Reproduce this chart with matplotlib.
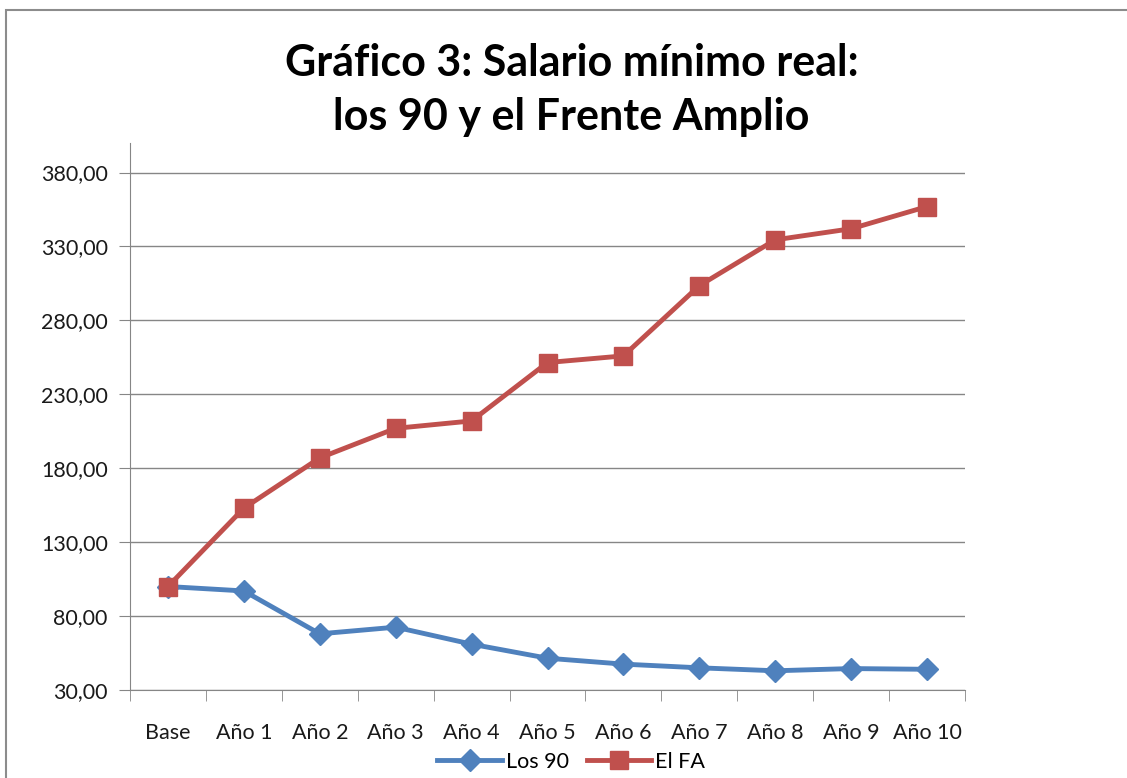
import matplotlib.pyplot as plt
from matplotlib.patches import Rectangle
from matplotlib.ticker import FixedLocator, FuncFormatter

plt.rcParams['font.family'] = ['Lato', 'DejaVu Sans']

categorias = ['Base', 'Año 1', 'Año 2', 'Año 3', 'Año 4', 'Año 5',
              'Año 6', 'Año 7', 'Año 8', 'Año 9', 'Año 10']
los_90 = [100, 97, 68, 72.5, 61, 51.5, 47.5, 45, 43, 44.5, 44]
el_fa = [100, 153, 187, 207, 212, 251.5, 256, 303.5, 334.5, 342, 357]
y_ticks = [30, 80, 130, 180, 230, 280, 330, 380]

azul = '#4F81BD'
rojo = '#C0504D'

fig = plt.figure(figsize=(11.27, 7.78), dpi=100)
fig.patches.append(Rectangle((6 / 1127, -0.1), 1.2, 1 - 10 / 778 + 0.1,
                             transform=fig.transFigure, fill=False,
                             edgecolor='#8c8c8c', linewidth=1.5))
ax = fig.add_axes([130 / 1127, 1 - 690 / 778, 835 / 1127, 547 / 778])

x = list(range(len(categorias)))
ax.plot(x, los_90, color=azul, linewidth=3.5, marker='D', markersize=11,
        label='Los 90')
ax.plot(x, el_fa, color=rojo, linewidth=3.5, marker='s', markersize=13,
        label='El FA')

ax.set_xlim(-0.5, len(categorias) - 0.5)
ax.set_ylim(30, 400)
ax.yaxis.set_major_locator(FixedLocator(y_ticks))
ax.yaxis.set_major_formatter(FuncFormatter(lambda v, p: f'{v:.2f}'.replace('.', ',')))
ax.set_xticks(x)
ax.set_xticklabels(categorias)
ax.set_xticks([i - 0.5 for i in range(len(categorias) + 1)], minor=True)
ax.tick_params(axis='x', which='major', length=0, pad=24, labelsize=15.5,
               colors='#1a1a1a')
ax.tick_params(axis='x', which='minor', length=8, direction='out',
               color='#868686')
ax.tick_params(axis='y', length=8, direction='out', color='#868686',
               labelsize=15.5, pad=8, labelcolor='#1a1a1a')
ax.grid(axis='y', color='#868686', linewidth=1)
ax.set_axisbelow(True)
for s in ['top', 'right']:
    ax.spines[s].set_visible(False)
for s in ['left', 'bottom']:
    ax.spines[s].set_color('#868686')

fig.text(0.507, 1 - 90 / 778, 'Gráfico 3: Salario mínimo real:\nlos 90 y el Frente Amplio',
         ha='center', va='center', fontsize=31, fontweight='bold',
         linespacing=1.4)

ax.legend(loc='center', bbox_to_anchor=(0.507, 1 - 762 / 778),
          bbox_transform=fig.transFigure, ncol=2, frameon=False,
          fontsize=15.5, handlelength=3, handletextpad=0.2,
          columnspacing=0.8)

fig.savefig('out.png', dpi=100)
